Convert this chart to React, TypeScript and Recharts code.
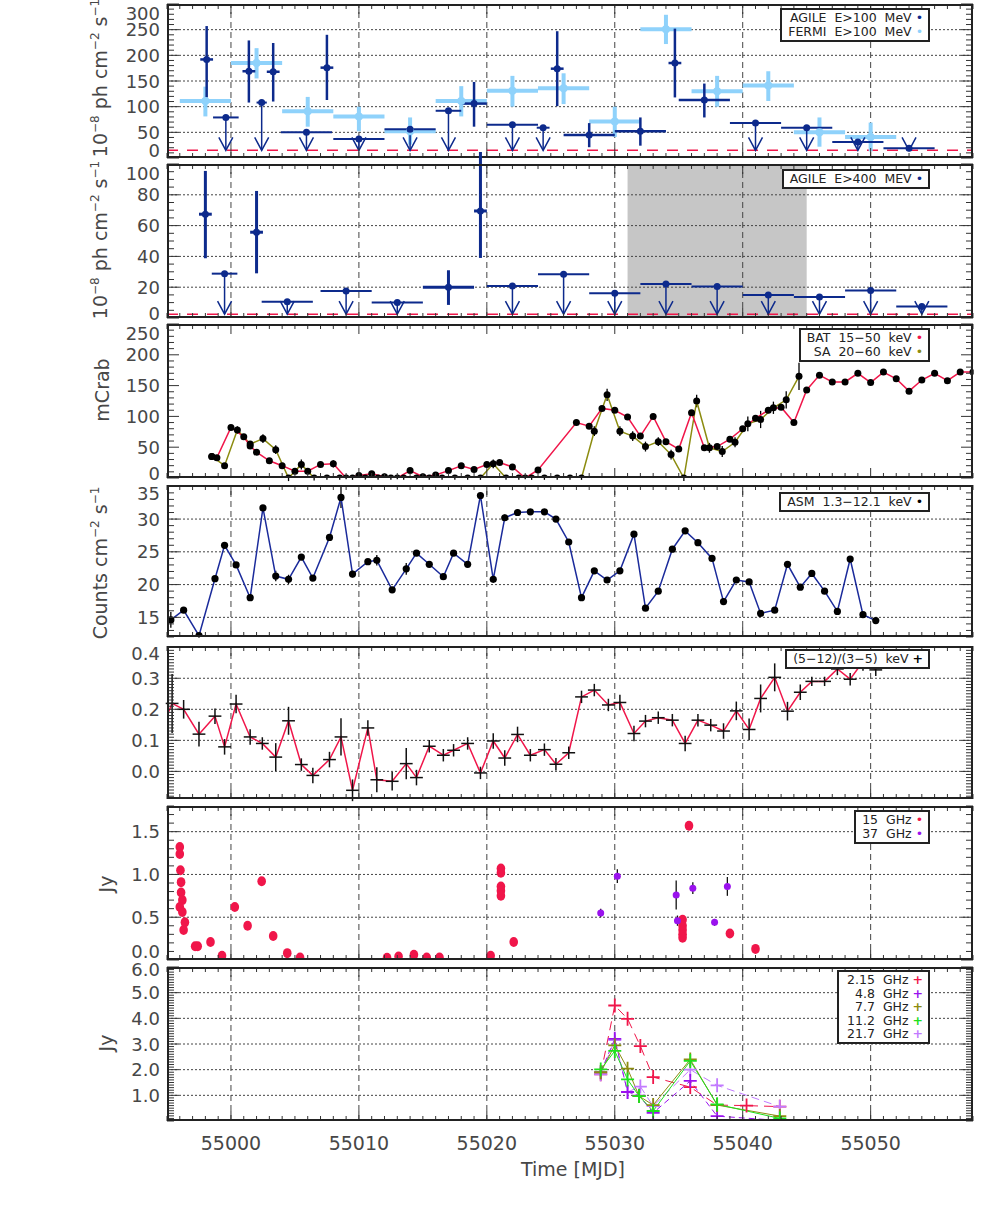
import React from 'react'
import {
    ComposedChart,
    XAxis,
    YAxis,
    Scatter,
    Line,
    ErrorBar,
    ReferenceLine,
    ReferenceArea,
} from 'recharts'

// ---- shared axis ----
const X_MIN = 54995
const X_MAX = 55058
const X_MAJOR = [55000, 55010, 55020, 55030, 55040, 55050]
const PLOT_L = 167
const PLOT_R = 973
const PLOT_W = PLOT_R - PLOT_L
const PAD_T = 12
const FONT = '"DejaVu Sans", sans-serif'
const TXT = '#474747'

const NAVY = '#0d2a8c'
const SKY = '#8fd2fb'
const RED = '#f0164a'
const OLIVE = '#8c8c10'
const PURPLE = '#9a12ee'
const GREEN = '#1ee01e'
const LILAC = '#c27aff'

// ---- panel 1: gamma E>100 MeV  [mjd, flux, low, high, halfBin] ----
const agile100Det: number[][] = [
    [54998.1, 192, 118, 257, 0.5],
    [55001.4, 169, 108, 229, 0.5],
    [55003.3, 168, 110, 224, 0.5],
    [55007.5, 176, 113, 240, 0.5],
    [55019.0, 106, 61, 148, 1],
    [55025.5, 174, 101, 247, 0.5],
    [55028.0, 45, 21, 68, 2],
    [55032.0, 52, 24, 79, 2],
    [55034.7, 185, 118, 252, 0.5],
    [55037.0, 113, 79, 145, 2],
]
// [mjd, upper limit, halfBin]
const agile100UL: number[][] = [
    [54999.6, 79, 1],
    [55002.4, 108, 0.4],
    [55005.9, 50, 2],
    [55010.0, 37, 2],
    [55014.0, 56, 2],
    [55017.0, 92, 1],
    [55022.0, 65, 2],
    [55024.4, 59, 0.5],
    [55041.0, 68, 2],
    [55045.0, 59, 2],
    [55049.0, 31, 2],
    [55053.0, 19, 2],
]
const fermi100: number[][] = [
    [54998, 111, 81, 139, 2],
    [55002, 185, 155, 214, 2],
    [55006, 91, 61, 119, 2],
    [55010, 81, 52, 100, 2],
    [55014, 52, 26, 79, 2],
    [55018, 111, 81, 140, 2],
    [55022, 131, 100, 160, 2],
    [55026, 136, 105, 165, 2],
    [55030, 71, 41, 100, 2],
    [55034, 251, 222, 279, 2],
    [55038, 130, 100, 160, 2],
    [55042, 141, 111, 169, 2],
    [55046, 50, 22, 79, 2],
    [55050, 41, 13, 69, 2],
]
const BASE1 = 15

// ---- panel 2: AGILE E>400 MeV ----
const agile400Det: number[][] = [
    [54998.0, 67.4, 38.8, 95.5, 0.5],
    [55002.0, 55.7, 29, 82.5, 0.5],
    [55017.0, 20, 8.5, 31, 2],
    [55019.5, 69.5, 39, 110, 0.5],
]
const agile400UL: number[][] = [
    [54999.5, 28.8, 1],
    [55004.4, 10.6, 2],
    [55009.0, 17.6, 2],
    [55013.0, 10, 2],
    [55022.0, 20.8, 2],
    [55026.0, 28.4, 2],
    [55030.0, 16, 2],
    [55034.0, 22, 2],
    [55038.0, 20.4, 2],
    [55042.0, 15, 2],
    [55046.0, 13.7, 2],
    [55050.0, 17.8, 2],
    [55054.0, 7.4, 2],
]
const BASE2 = 2.5
const grayBand = [55031, 55045]

// ---- panel 3: hard X-ray [mjd, mCrab, err] ----
const bat: number[][] = [
    [54998.5, 35, 3], [54998.9, 33, 3], [55000.0, 82, 3], [55001.0, 67, 3], [55001.5, 52, 3],
    [55002.0, 42, 3], [55003.0, 28, 3], [55004.0, 20, 3], [55005.0, 11, 3], [55006.0, 11, 3],
    [55007.0, 22, 3], [55008.0, 23, 6], [55009.0, 0, 2], [55010.0, 4, 2], [55011.0, 7, 3],
    [55012.0, 2, 2], [55013.0, 0, 2], [55014.0, 12, 2], [55015.0, 2, 2], [55016.0, 5, 2],
    [55017.0, 12, 2], [55018.0, 20, 2], [55019.0, 14, 2], [55020.0, 22, 2], [55021.0, 25, 2],
    [55022.0, 18, 3], [55023.0, 0, 2], [55024.0, 13, 3], [55027.0, 90, 2], [55028.0, 84, 3],
    [55029.0, 113, 3], [55030.0, 110, 3], [55031.0, 99, 3], [55032.0, 68, 3], [55033.0, 100, 3],
    [55034.0, 59, 3], [55035.0, 47, 3], [55036.0, 106, 3], [55037.0, 49, 3], [55038.0, 51, 3],
    [55039.0, 63, 3], [55040.0, 80, 3], [55041.0, 97, 3], [55042.0, 110, 3], [55043.0, 115, 3],
    [55044.0, 90, 3], [55045.0, 143, 3], [55046.0, 167, 4], [55047.0, 156, 4], [55048.0, 156, 4],
    [55049.0, 170, 4], [55050.0, 155, 4], [55051.0, 172, 4], [55052.0, 161, 4], [55053.0, 141, 4],
    [55054.0, 159, 4], [55055.0, 170, 4], [55056.0, 158, 4], [55057.0, 172, 4], [55058.0, 172, 4],
]
const sa: number[][] = [
    [54998.5, 35, 4], [54999.5, 20, 4], [55000.5, 78, 6], [55001.5, 55, 5], [55002.5, 64, 7],
    [55003.5, 46, 7], [55004.5, 0, 5], [55005.5, 22, 8], [55006.5, 0, 4], [55007.5, 0, 3],
    [55008.5, 0, 3], [55009.5, 0, 3], [55010.5, 0, 3], [55011.5, 0, 3], [55012.5, 0, 3],
    [55013.5, 0, 3], [55014.5, 0, 3], [55015.5, 0, 3], [55016.5, 0, 3], [55017.5, 0, 3],
    [55018.5, 0, 3], [55019.5, 0, 3], [55020.5, 23, 7], [55021.5, 0, 3], [55022.5, 0, 3],
    [55023.5, 0, 3], [55024.5, 0, 3], [55025.5, 0, 3], [55026.5, 0, 3], [55027.4, 0, 3],
    [55028.4, 76, 8], [55029.4, 135, 10], [55030.4, 76, 8], [55031.4, 68, 8], [55032.4, 51, 8],
    [55033.4, 59, 7], [55034.4, 38, 8], [55035.4, 0, 5], [55036.4, 125, 10], [55037.4, 49, 8],
    [55038.4, 43, 9], [55039.4, 58, 8], [55040.4, 88, 12], [55041.4, 95, 14], [55042.4, 114, 10],
    [55043.4, 127, 14], [55044.4, 165, 22],
]

// ---- panel 4: ASM [mjd, counts, err] ----
const asm: number[][] = [
    [54995.3, 14.6, 1.2], [54996.3, 16.1, 0.3], [54997.5, 12.2, 0.3], [54998.75, 20.9, 0.3],
    [54999.5, 26.0, 0.3], [55000.4, 23.0, 0.4], [55001.5, 18.0, 0.3], [55002.5, 31.7, 0.4],
    [55003.5, 21.3, 0.8], [55004.5, 20.8, 0.7], [55005.5, 24.2, 0.4], [55006.4, 21.0, 0.3],
    [55007.7, 27.2, 0.4], [55008.6, 33.3, 1.6], [55009.5, 21.6, 0.5], [55010.7, 23.5, 0.4],
    [55011.4, 23.7, 0.8], [55012.6, 19.2, 0.4], [55013.7, 22.4, 0.9], [55014.5, 24.8, 0.4],
    [55015.5, 23.1, 0.3], [55016.6, 21.2, 0.3], [55017.4, 24.8, 0.3], [55018.5, 23.1, 0.3],
    [55019.5, 33.6, 0.4], [55020.5, 20.8, 0.3], [55021.4, 30.2, 0.5], [55022.4, 31.0, 0.5],
    [55023.4, 31.1, 0.3], [55024.5, 31.1, 0.3], [55025.4, 30.0, 0.3], [55026.4, 26.5, 0.3],
    [55027.4, 18.0, 0.3], [55028.4, 22.1, 0.3], [55029.4, 20.7, 0.3], [55030.4, 22.1, 0.3],
    [55031.5, 27.7, 0.3], [55032.4, 16.4, 0.3], [55033.4, 19.0, 0.3], [55034.5, 25.4, 0.3],
    [55035.5, 28.2, 0.3], [55036.5, 26.4, 0.3], [55037.6, 24.0, 0.3], [55038.5, 17.4, 0.3],
    [55039.5, 20.7, 0.3], [55040.5, 20.4, 0.3], [55041.4, 15.6, 0.3], [55042.5, 16.1, 0.3],
    [55043.5, 23.1, 0.3], [55044.5, 19.6, 0.3], [55045.4, 21.7, 0.3], [55046.4, 19.0, 0.3],
    [55047.4, 15.9, 0.3], [55048.4, 23.9, 0.3], [55049.4, 15.4, 0.3], [55050.4, 14.5, 0.3],
]

// ---- panel 5: hardness ratio [mjd, ratio, err] ----
const hrLead: number[][] = [[54994.6, 0.14, 0]]
const hr: number[][] = [
    [54995.4, 0.219, 0.095], [54996.3, 0.2, 0.03], [54997.5, 0.12, 0.04], [54998.75, 0.178, 0.025],
    [54999.5, 0.079, 0.025], [55000.4, 0.217, 0.03], [55001.5, 0.111, 0.025], [55002.45, 0.09, 0.02],
    [55003.5, 0.046, 0.045], [55004.5, 0.163, 0.045], [55005.5, 0.022, 0.02], [55006.4, -0.013, 0.025],
    [55007.7, 0.038, 0.025], [55008.6, 0.111, 0.06], [55009.5, -0.061, 0.035], [55010.7, 0.14, 0.025],
    [55011.4, -0.027, 0.04], [55012.6, -0.032, 0.03], [55013.7, 0.025, 0.05], [55014.5, -0.02, 0.025],
    [55015.5, 0.081, 0.02], [55016.6, 0.052, 0.02], [55017.4, 0.068, 0.02], [55018.5, 0.09, 0.02],
    [55019.5, -0.005, 0.02], [55020.5, 0.098, 0.025], [55021.4, 0.043, 0.025], [55022.4, 0.119, 0.025],
    [55023.4, 0.052, 0.02], [55024.5, 0.07, 0.02], [55025.4, 0.023, 0.02], [55026.4, 0.06, 0.02],
    [55027.4, 0.24, 0.02], [55028.4, 0.262, 0.02], [55029.5, 0.214, 0.02], [55030.4, 0.222, 0.025],
    [55031.5, 0.122, 0.025], [55032.4, 0.162, 0.02], [55033.4, 0.173, 0.02], [55034.5, 0.165, 0.02],
    [55035.5, 0.09, 0.025], [55036.5, 0.165, 0.02], [55037.5, 0.149, 0.02], [55038.5, 0.13, 0.025],
    [55039.5, 0.195, 0.03], [55040.5, 0.135, 0.035], [55041.4, 0.235, 0.045], [55042.5, 0.303, 0.045],
    [55043.5, 0.194, 0.03], [55044.5, 0.255, 0.025], [55045.4, 0.29, 0.015], [55046.4, 0.29, 0.015],
    [55047.4, 0.33, 0.02], [55048.4, 0.297, 0.02], [55049.4, 0.354, 0.03], [55050.4, 0.327, 0.02],
]

// ---- panel 6: radio 15 / 37 GHz [mjd, Jy(, err)] ----
const r15: number[][] = [
    [54996.0, 1.32], [54996.0, 1.24], [54996.05, 1.05], [54996.1, 0.91], [54996.1, 0.79],
    [54996.2, 0.7], [54996.0, 0.62], [54996.2, 0.56], [54996.4, 0.44], [54996.3, 0.35],
    [54997.2, 0.16], [54997.4, 0.16], [54998.4, 0.21], [54999.3, 0.05], [55000.3, 0.62],
    [55001.3, 0.4], [55002.4, 0.92], [55003.3, 0.28], [55004.4, 0.08], [55005.4, 0.03],
    [55012.2, 0.025], [55013.1, 0.04], [55014.3, 0.06], [55015.3, 0.03], [55016.3, 0.03],
    [55020.3, 0.05], [55021.1, 1.07], [55021.1, 1.02], [55021.1, 0.86], [55021.1, 0.81],
    [55021.1, 0.75], [55022.1, 0.21], [55035.3, 0.47], [55035.3, 0.4], [55035.3, 0.35],
    [55035.3, 0.3], [55035.3, 0.26], [55035.8, 1.57], [55039.0, 0.31], [55041.0, 0.13],
]
const r37: number[][] = [
    [55028.9, 0.55, 0.05], [55030.2, 0.98, 0.08], [55034.8, 0.76, 0.17], [55034.9, 0.46, 0.06],
    [55036.1, 0.84, 0.07], [55037.8, 0.44, 0.04], [55038.8, 0.86, 0.11],
]

// ---- panel 7: RATAN spectra [mjd, Jy] ----
const f215: number[][] = [
    [55028.9, 1.82], [55030.0, 4.5], [55031.0, 3.98], [55032.0, 2.92], [55033.0, 1.71],
    [55035.9, 1.32], [55038.0, 0.62], [55040.3, 0.6], [55042.9, 0.56],
]
const f48: number[][] = [
    [55028.9, 1.9], [55030.0, 3.2], [55031.0, 1.13], [55031.9, 0.99], [55033.0, 0.32],
    [55035.9, 1.56], [55038.0, 0.19], [55042.9, 0.02],
]
const f77: number[][] = [
    [55028.9, 1.9], [55030.0, 2.95], [55031.0, 2.04], [55031.9, 0.97], [55033.0, 0.62],
    [55035.9, 2.4], [55038.0, 0.62], [55042.9, 0.19],
]
const f112: number[][] = [
    [55028.9, 2.01], [55030.0, 2.73], [55031.0, 1.62], [55031.9, 0.97], [55033.0, 0.39],
    [55035.9, 2.34], [55038.0, 0.65], [55042.9, 0.1],
]
const f217: number[][] = [
    [55028.9, 1.82], [55030.0, 3.15], [55031.0, 1.13], [55032.0, 1.34], [55033.0, 0.58],
    [55035.9, 2.0], [55038.0, 1.39], [55042.9, 0.56],
]

// ---- helpers ----
const DAY_TICKS: number[] = []
for (let d = X_MIN; d <= X_MAX; d++) DAY_TICKS.push(d)

function steps(lo: number, hi: number, step: number): number[] {
    const out: number[] = []
    const n0 = Math.ceil(lo / step - 1e-9)
    const n1 = Math.floor(hi / step + 1e-9)
    for (let i = n0; i <= n1; i++) out.push(+(i * step).toFixed(4))
    return out
}

const det = (rows: number[][]) =>
    rows.map((r) => ({ x: r[0], y: r[1], ey: [r[1] - r[2], r[3] - r[1]], ex: r[4] }))
const ul = (rows: number[][], base: number) =>
    rows.map((r) => ({ x: r[0], y: r[1], ey: [r[1] - base, 0], ex: r[2] }))
const ulBase = (rows: number[][], base: number) => rows.map((r) => ({ x: r[0], y: base }))
const pts = (rows: number[][]) => rows.map((r) => ({ x: r[0], y: r[1], e: r[2] ?? 0 }))

const dot = (r: number, color: string) => (p: any) =>
    <circle cx={p.cx} cy={p.cy} r={r} fill={color} />
const oval = (color: string) => (p: any) =>
    <ellipse cx={p.cx} cy={p.cy} rx={4.3} ry={5} fill={color} />
const arrow = (color: string) => (p: any) => (
    <path
        d={`M${p.cx - 7},${p.cy - 13} L${p.cx},${p.cy} L${p.cx + 7},${p.cy - 13}`}
        fill="none"
        stroke={color}
        strokeWidth={1.5}
    />
)
const none = () => <g />
const plusDot = (color: string) => (p: any) => (
    <path
        key={`${p.index}-${p.cx}`}
        d={`M${p.cx - 6.5},${p.cy} H${p.cx + 6.5} M${p.cx},${p.cy - 7} V${p.cy + 7}`}
        stroke={color}
        strokeWidth={1.8}
        fill="none"
    />
)

function XTick({ x, y, payload, h, labels }: any) {
    const v = payload.value
    const major = X_MAJOR.includes(v)
    const len = major ? 10 : 5
    return (
        <g>
            <line x1={x} x2={x} y1={y} y2={y - len} stroke="#333" />
            <line x1={x} x2={x} y1={y - h} y2={y - h + len} stroke="#333" />
            {labels && major && (
                <text x={x} y={y + 29} textAnchor="middle" fontSize={19} fill={TXT} fontFamily={FONT}>
                    {v}
                </text>
            )}
        </g>
    )
}

function YTick({ x, y, payload, major, fmt, nudge }: any) {
    const v = payload.value
    const isMajor = major.some((m: number) => Math.abs(m - v) < 1e-6)
    const len = isMajor ? 12 : 7
    const top = Math.max(...major)
    const bot = Math.min(...major)
    let ly = y
    if (Math.abs(v - top) < 1e-6) ly += nudge[0]
    if (Math.abs(v - bot) < 1e-6) ly += nudge[1]
    return (
        <g>
            <line x1={x} x2={x + len} y1={y} y2={y} stroke="#333" />
            <line x1={x + PLOT_W - len} x2={x + PLOT_W} y1={y} y2={y} stroke="#333" />
            {isMajor && (
                <text x={x - 7} y={ly} textAnchor="end" dominantBaseline="central" fontSize={18} fill={TXT} fontFamily={FONT}>
                    {fmt(v)}
                </text>
            )}
        </g>
    )
}

function Panel(props: any) {
    const { top, h, yDomain, yMajor, yMinor, fmt, hGrid, vGrid = true, nudge = [0, 0], xLabels = false, under, children } = props
    const xH = xLabels ? 40 : 12
    const yTicks = steps(yDomain[0], yDomain[1], yMinor)
    return (
        <div style={{ position: 'absolute', left: 0, top: top - PAD_T }}>
            <ComposedChart
                width={981}
                height={PAD_T + h + xH}
                margin={{ top: PAD_T, right: 981 - PLOT_R, bottom: 0, left: 0 }}
            >
                <XAxis
                    type="number"
                    dataKey="x"
                    domain={[X_MIN, X_MAX]}
                    allowDataOverflow
                    ticks={DAY_TICKS}
                    interval={0}
                    tickSize={0}
                    tickMargin={0}
                    axisLine={false}
                    height={xH}
                    tick={<XTick h={h} labels={xLabels} />}
                />
                <YAxis
                    type="number"
                    dataKey="y"
                    domain={yDomain}
                    allowDataOverflow
                    ticks={yTicks}
                    interval={0}
                    tickSize={0}
                    tickMargin={0}
                    axisLine={false}
                    width={PLOT_L}
                    tick={<YTick major={yMajor} fmt={fmt} nudge={nudge} />}
                />
                {under}
                {vGrid &&
                    X_MAJOR.map((v) => (
                        <ReferenceLine key={'v' + v} x={v} stroke="#444" strokeDasharray="6 4" />
                    ))}
                {hGrid.map((v: number) => (
                    <ReferenceLine key={'h' + v} y={v} stroke="#444" strokeDasharray="2 2" />
                ))}
                {children}
            </ComposedChart>
            <div
                style={{
                    position: 'absolute',
                    left: PLOT_L,
                    top: PAD_T,
                    width: PLOT_W,
                    height: h,
                    border: '2px solid #222',
                    boxSizing: 'border-box',
                    pointerEvents: 'none',
                }}
            />
        </div>
    )
}

function VLabel({ x, y, children }: any) {
    return (
        <div
            style={{
                position: 'absolute',
                left: x,
                top: y,
                transform: 'translate(-50%,-50%) rotate(-90deg)',
                whiteSpace: 'nowrap',
                fontSize: 19,
                color: TXT,
                fontFamily: FONT,
                lineHeight: 1,
            }}
        >
            {children}
        </div>
    )
}

const Sup = ({ children }: any) => <sup style={{ fontSize: 12, lineHeight: 0 }}>{children}</sup>

function LegendBox({ top, rows, numCol, lh = 14 }: any) {
    return (
        <div
            style={{
                position: 'absolute',
                right: 981 - 930,
                top,
                border: '2px solid #222',
                background: '#fff',
                padding: '1px 5px 1px 6px',
                fontFamily: FONT,
                fontSize: 12.5,
                lineHeight: `${lh}px`,
                color: '#222',
                whiteSpace: 'pre',
                textAlign: 'right',
            }}
        >
            {rows.map((r: any, i: number) => (
                <div key={i} style={{ height: lh, overflow: 'visible' }}>
                    {numCol ? (
                        <>
                            <span style={{ display: 'inline-block', width: 30, textAlign: 'right' }}>{r.n}</span>
                            {'  GHz '}
                        </>
                    ) : (
                        r.t + ' '
                    )}
                    <span style={{ color: r.c, fontWeight: r.m === '+' ? 'bold' : 'normal' }}>
                        {r.m ?? '•'}
                    </span>
                </div>
            ))}
        </div>
    )
}

export default function App() {
    const f1 = (v: number) => String(v)
    const f1d = (v: number) => v.toFixed(1)
    return (
        <div style={{ position: 'absolute', left: 0, top: 0, width: 981, height: 1225, background: '#fff', overflow: 'hidden' }}>
            {/* Panel 1 */}
            <Panel top={4} h={154} yDomain={[0, 300]} yMajor={[0, 50, 100, 150, 200, 250, 300]} yMinor={10} fmt={f1}
                hGrid={[50, 100, 150, 200, 250]} nudge={[9, -7.5]}>
                <ReferenceLine y={BASE1} stroke={RED} strokeDasharray="11 9" strokeWidth={1.5} />
                <Scatter data={det(fermi100)} isAnimationActive={false} shape={dot(4, SKY)}>
                    <ErrorBar dataKey="ex" direction="x" width={0} stroke={SKY} strokeWidth={4} />
                    <ErrorBar dataKey="ey" direction="y" width={0} stroke={SKY} strokeWidth={4} />
                </Scatter>
                <Scatter data={ul(agile100UL, BASE1)} isAnimationActive={false} shape={dot(3.5, NAVY)}>
                    <ErrorBar dataKey="ex" direction="x" width={0} stroke={NAVY} strokeWidth={2} />
                    <ErrorBar dataKey="ey" direction="y" width={0} stroke={NAVY} strokeWidth={1.5} />
                </Scatter>
                <Scatter data={ulBase(agile100UL, BASE1)} isAnimationActive={false} shape={arrow(NAVY)} />
                <Scatter data={det(agile100Det)} isAnimationActive={false} shape={dot(3.5, NAVY)}>
                    <ErrorBar dataKey="ex" direction="x" width={0} stroke={NAVY} strokeWidth={2.5} />
                    <ErrorBar dataKey="ey" direction="y" width={0} stroke={NAVY} strokeWidth={2.5} />
                </Scatter>
            </Panel>

            {/* Panel 2 */}
            <Panel top={164} h={154} yDomain={[0, 100]} yMajor={[0, 20, 40, 60, 80, 100]} yMinor={5} fmt={f1}
                hGrid={[20, 40, 60, 80]} nudge={[9, -4.5]}
                under={<ReferenceArea x1={grayBand[0]} x2={grayBand[1]} y1={0} y2={100} fill="#c6c6c6" fillOpacity={1} stroke="none" />}>
                <ReferenceLine y={BASE2} stroke={RED} strokeDasharray="11 9" strokeWidth={1.5} />
                <Scatter data={ul(agile400UL, BASE2)} isAnimationActive={false} shape={dot(3.5, NAVY)}>
                    <ErrorBar dataKey="ex" direction="x" width={0} stroke={NAVY} strokeWidth={2} />
                    <ErrorBar dataKey="ey" direction="y" width={0} stroke={NAVY} strokeWidth={1.5} />
                </Scatter>
                <Scatter data={ulBase(agile400UL, BASE2)} isAnimationActive={false} shape={arrow(NAVY)} />
                <Scatter data={det(agile400Det)} isAnimationActive={false} shape={dot(3.5, NAVY)}>
                    <ErrorBar dataKey="ex" direction="x" width={0} stroke={NAVY} strokeWidth={3} />
                    <ErrorBar dataKey="ey" direction="y" width={0} stroke={NAVY} strokeWidth={3} />
                </Scatter>
            </Panel>

            {/* Panel 3 */}
            <Panel top={324} h={154} yDomain={[0, 250]} yMajor={[0, 50, 100, 150, 200, 250]} yMinor={10} fmt={f1}
                hGrid={[]} vGrid={false} nudge={[9, -4.5]}>
                <Line data={pts(sa)} dataKey="y" isAnimationActive={false} stroke={OLIVE} strokeWidth={1.5}
                    dot={{ r: 3.5, fill: '#000', stroke: 'none' }}>
                    <ErrorBar dataKey="e" direction="y" width={0} stroke="#000" strokeWidth={1.3} />
                </Line>
                <Line data={pts(bat)} dataKey="y" isAnimationActive={false} stroke={RED} strokeWidth={1.5}
                    dot={{ r: 3.5, fill: '#000', stroke: 'none' }}>
                    <ErrorBar dataKey="e" direction="y" width={0} stroke="#000" strokeWidth={1.3} />
                </Line>
            </Panel>

            {/* Panel 4 */}
            <Panel top={485} h={152} yDomain={[12, 35.2]} yMajor={[15, 20, 25, 30, 35]} yMinor={1} fmt={f1}
                hGrid={[15, 20, 25, 30]} nudge={[7, 0]}>
                <Line data={pts(asm)} dataKey="y" isAnimationActive={false} stroke="#1b2b9b" strokeWidth={1.5}
                    dot={{ r: 3.6, fill: '#000', stroke: 'none' }}>
                    <ErrorBar dataKey="e" direction="y" width={0} stroke="#000" strokeWidth={1.3} />
                </Line>
            </Panel>

            {/* Panel 5 */}
            <Panel top={646} h={153} yDomain={[-0.089, 0.404]} yMajor={[0, 0.1, 0.2, 0.3, 0.4]} yMinor={0.01} fmt={f1d}
                hGrid={[0, 0.1, 0.2, 0.3]} nudge={[6, 0]}>
                <Line data={pts([...hrLead, ...hr])} dataKey="y" isAnimationActive={false} stroke={RED} strokeWidth={1.5} dot={false} />
                <Scatter data={pts(hr).map((d) => ({ ...d, ex: 0.5 }))} isAnimationActive={false} shape={none}>
                    <ErrorBar dataKey="ex" direction="x" width={0} stroke="#111" strokeWidth={1.5} />
                    <ErrorBar dataKey="e" direction="y" width={0} stroke="#111" strokeWidth={1.5} />
                </Scatter>
            </Panel>

            {/* Panel 6 */}
            <Panel top={806} h={154} yDomain={[0, 1.8]} yMajor={[0, 0.5, 1, 1.5]} yMinor={0.1} fmt={f1d}
                hGrid={[0.5, 1, 1.5]} nudge={[0, -9]}>
                <Scatter data={pts(r15)} isAnimationActive={false} shape={oval(RED)} />
                <Scatter data={pts(r37)} isAnimationActive={false} shape={dot(3.5, PURPLE)}>
                    <ErrorBar dataKey="e" direction="y" width={0} stroke="#111" strokeWidth={1.3} />
                </Scatter>
            </Panel>

            {/* Panel 7 */}
            <Panel top={966.7} h={154} yDomain={[0, 6]} yMajor={[1, 2, 3, 4, 5, 6]} yMinor={0.1} fmt={f1d}
                hGrid={[1, 2, 3, 4, 5]} xLabels nudge={[2, 0]}>
                <Line data={pts(f215)} dataKey="y" isAnimationActive={false} stroke={RED} strokeWidth={1} strokeDasharray="9 6" dot={plusDot(RED)} />
                <Line data={pts(f217)} dataKey="y" isAnimationActive={false} stroke={LILAC} strokeWidth={1} strokeDasharray="8 5" dot={plusDot(LILAC)} />
                <Line data={pts(f48)} dataKey="y" isAnimationActive={false} stroke={PURPLE} strokeWidth={1} strokeDasharray="6 4" dot={plusDot(PURPLE)} />
                <Line data={pts(f77)} dataKey="y" isAnimationActive={false} stroke={OLIVE} strokeWidth={1} dot={plusDot(OLIVE)} />
                <Line data={pts(f112)} dataKey="y" isAnimationActive={false} stroke={GREEN} strokeWidth={1} dot={plusDot(GREEN)} />
            </Panel>

            {/* axis titles */}
            <VLabel x={100} y={78}>10<Sup>−8</Sup> ph cm<Sup>−2</Sup> s<Sup>−1</Sup></VLabel>
            <VLabel x={100} y={240}>10<Sup>−8</Sup> ph cm<Sup>−2</Sup> s<Sup>−1</Sup></VLabel>
            <VLabel x={102} y={390}>mCrab</VLabel>
            <VLabel x={100} y={563}>Counts cm<Sup>−2</Sup> s<Sup>−1</Sup></VLabel>
            <VLabel x={106} y={884}>Jy</VLabel>
            <VLabel x={106} y={1043}>Jy</VLabel>
            <div style={{ position: 'absolute', left: 573, top: 1169, transform: 'translate(-50%,-50%)', fontFamily: FONT, fontSize: 19, color: TXT, whiteSpace: 'nowrap' }}>
                Time [MJD]
            </div>

            {/* legends */}
            <LegendBox top={8} rows={[{ t: 'AGILE  E>100  MeV', c: NAVY }, { t: 'FERMI  E>100  MeV', c: SKY }]} />
            <LegendBox top={169} rows={[{ t: 'AGILE  E>400  MEV', c: NAVY }]} />
            <LegendBox top={328} rows={[{ t: 'BAT  15−50  keV', c: RED }, { t: 'SA  20−60  keV', c: OLIVE }]} />
            <LegendBox top={492} rows={[{ t: 'ASM  1.3−12.1  keV', c: '#000' }]} />
            <LegendBox top={649} rows={[{ t: '(5−12)/(3−5)  keV', c: '#000', m: '+' }]} />
            <LegendBox top={810} rows={[{ t: '15  GHz', c: RED }, { t: '37  GHz', c: PURPLE }]} />
            <LegendBox top={970} numCol lh={13.6} rows={[
                { n: '2.15', c: RED, m: '+' },
                { n: '4.8', c: PURPLE, m: '+' },
                { n: '7.7', c: OLIVE, m: '+' },
                { n: '11.2', c: GREEN, m: '+' },
                { n: '21.7', c: LILAC, m: '+' },
            ]} />
        </div>
    )
}
